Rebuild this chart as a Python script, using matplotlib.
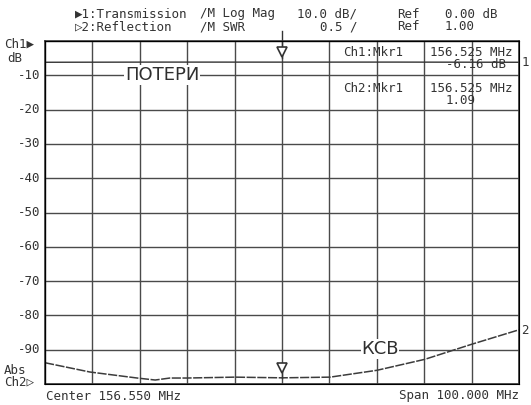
import matplotlib
matplotlib.use("Agg")
import matplotlib.pyplot as plt
import numpy as np

# sweep settings
center = 156.55
span = 100.0
f_start = center - span / 2
f_stop = center + span / 2

# trace 1: transmission, dB (flat loss)
loss_freq = [106.55, 130.0, 156.525, 180.0, 206.55]
loss_db = [-6.2, -6.15, -6.16, -6.15, -6.2]

# trace 2: reflection, SWR
swr_freq = [106.55, 116.0, 126.0, 129.8, 132.9, 136.5, 146.6, 156.525,
            166.7, 176.6, 186.7, 196.6, 206.55]
swr_val = [1.31, 1.175, 1.087, 1.058, 1.087, 1.087, 1.10, 1.09,
           1.10, 1.20, 1.36, 1.58, 1.79]

db_ticks = [-10, -20, -30, -40, -50, -60, -70, -80, -90]
mkr_freq = 156.525

W, H = 531, 405
fig = plt.figure(figsize=(W / 100, H / 100), dpi=100)
fig.patch.set_facecolor("white")

def px(x, y):
    return x / W, 1 - y / H

l, t, r, b = 45, 41, 519, 384
ax = fig.add_axes([l / W, 1 - b / H, (r - l) / W, (b - t) / H])
ax.set_xlim(f_start, f_stop)
ax.set_ylim(-100, 0)
ax.set_xticks(np.linspace(f_start, f_stop, 11))
ax.set_yticks(np.arange(-100, 1, 10))
ax.tick_params(length=0, labelbottom=False, labelleft=False)
ax.grid(True, color="#4a4a4a", lw=1.0)
for s in ax.spines.values():
    s.set_color("#3a3a3a")
    s.set_linewidth(1.2)

ax.plot(loss_freq, loss_db, color="#333333", lw=1.0)

ax2 = ax.twinx()
ax2.set_ylim(1.0, 6.0)
ax2.set_yticks([])
ax2.plot(swr_freq, swr_val, color="#3c3c3c", lw=1.1, ls=(0, (6, 1)))

# markers
ax.plot([mkr_freq, mkr_freq], [3, -5], color="#333333", lw=1, clip_on=False)
ax.plot(mkr_freq, -3.2, marker="v", ms=6.5, mfc="white", mec="#333333", mew=1.2, clip_on=False)
ax2.plot([mkr_freq, mkr_freq], [1.3, 1.09], color="#333333", lw=1)
ax2.plot(mkr_freq, 1.24, marker="v", ms=6.5, mfc="white", mec="#333333", mew=1.2)

mono = dict(family="DejaVu Sans Mono", color="#333333", fontsize=9)

# header
hdr = [
    (75, 14, "\u25b61:Transmission"), (200, 14, "/M Log Mag"), (297, 14, "10.0 dB/"),
    (397, 14, "Ref"), (445, 14, "0.00 dB"),
    (75, 27, "\u25b72:Reflection"), (200, 27, "/M SWR"), (320, 27, "0.5 /"),
    (397, 27, "Ref"), (445, 27, "1.00"),
]
for x, y, s in hdr:
    fig.text(*px(x, y), s, ha="left", va="center", **mono)

# left labels
fig.text(*px(4, 44), "Ch1\u25b6", ha="left", va="center", **mono)
fig.text(*px(7, 58), "dB", ha="left", va="center", **mono)
for v in db_ticks:
    fig.text(*px(40, t + (-v) / 100 * (b - t)), "%d" % v, ha="right", va="center", **mono)
fig.text(*px(4, 370), "Abs", ha="left", va="center", **mono)
fig.text(*px(4, 382), "Ch2\u25b7", ha="left", va="center", **mono)

# bottom
fig.text(*px(46, 396), "Center %.3f MHz" % center, ha="left", va="center", **mono)
fig.text(*px(519, 396), "Span %.3f MHz" % span, ha="right", va="center", **mono)

# marker readout
fig.text(*px(343, 52), "Ch1:Mkr1", ha="left", va="center", **mono)
fig.text(*px(430, 52), "%.3f MHz" % mkr_freq, ha="left", va="center", **mono)
fig.text(*px(506, 64), "-6.16 dB", ha="right", va="center", **mono)
fig.text(*px(343, 88), "Ch2:Mkr1", ha="left", va="center", **mono)
fig.text(*px(430, 88), "%.3f MHz" % mkr_freq, ha="left", va="center", **mono)
fig.text(*px(446, 100), "1.09", ha="left", va="center", **mono)

# trace numbers
fig.text(*px(522, 62), "1", ha="left", va="center", **mono)
fig.text(*px(521, 330), "2", ha="left", va="center", **mono)

# trace names
lab = dict(family="DejaVu Sans", color="#2f2f2f", fontsize=13, fontweight="normal",
           bbox=dict(facecolor="white", edgecolor="none", pad=0.5))
fig.text(*px(162, 75), "ПОТЕРИ", ha="center", va="center", **lab)
fig.text(*px(380, 349), "КСВ", ha="center", va="center", **lab)

fig.savefig("out.png", dpi=100)
